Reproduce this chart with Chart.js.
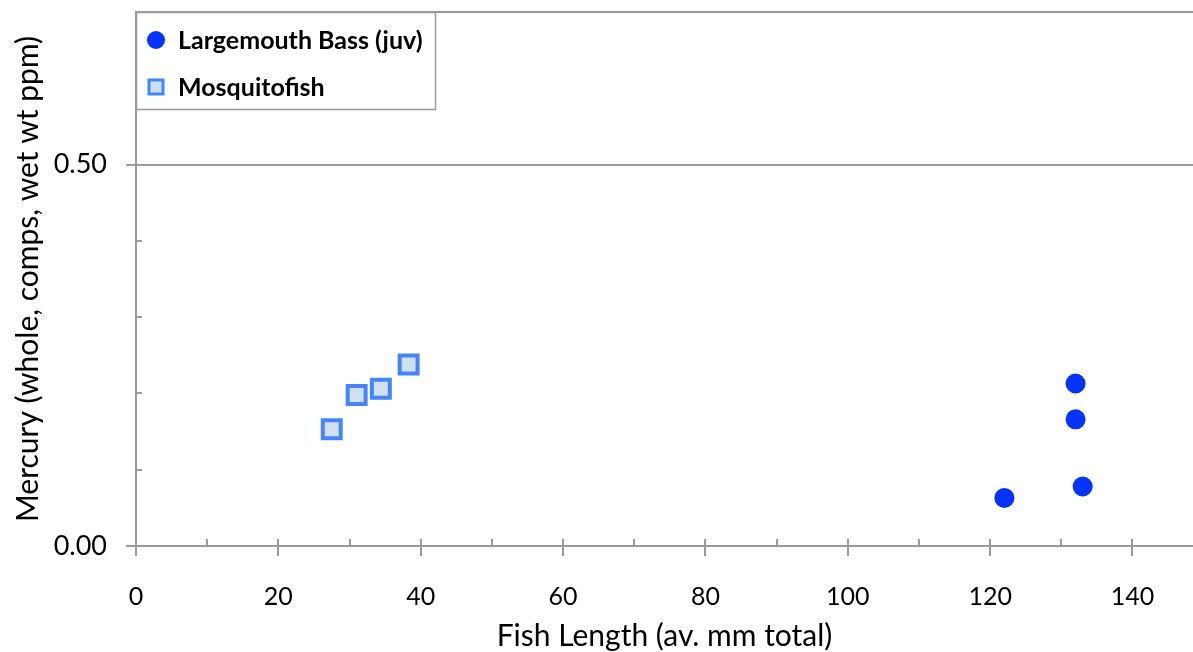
<!DOCTYPE html>
<html>
<head>
<meta charset="utf-8">
<script src="https://cdn.jsdelivr.net/npm/chart.js@4"></script>
<style>
  html, body { margin: 0; padding: 0; background: #fff; }
</style>
</head>
<body>
<canvas id="chart" width="1193" height="652"></canvas>
<script>
// data
const bassLength = [122, 132, 132, 133];
const bassMercury = [0.063, 0.166, 0.213, 0.078];
const mosqLength = [27.5, 31.0, 34.4, 38.3];
const mosqMercury = [0.153, 0.198, 0.206, 0.238];

const xTicks = [0, 10, 20, 30, 40, 50, 60, 70, 80, 90, 100, 110, 120, 130, 140];
const xLabels = [0, 20, 40, 60, 80, 100, 120, 140];
const yTicks = [0, 0.1, 0.2, 0.3, 0.4, 0.5, 0.6, 0.7];
const yLabels = [0, 0.5];

const gray = '#9a9a9a';
const fontFamily = 'Lato, "Open Sans", sans-serif';

function near(list, v) {
    return list.some(t => Math.abs(t - v) < 1e-6);
}

function noPadding(scale) {
    scale.paddingTop = 0;
    scale.paddingBottom = 0;
    scale.paddingLeft = 0;
    scale.paddingRight = 0;
}

// Excel style tick marks: major cross the axis, minor sit inside
const tickMarks = {
    id: 'tickMarks',
    afterDraw(chart) {
        const { ctx, chartArea: a, scales: { x, y } } = chart;
        ctx.save();
        ctx.strokeStyle = gray;
        ctx.lineWidth = 2;
        ctx.beginPath();
        xTicks.forEach(v => {
            const px = Math.round(x.getPixelForValue(v));
            ctx.moveTo(px, a.bottom - 7);
            ctx.lineTo(px, near(xLabels, v) ? a.bottom + 10 : a.bottom);
        });
        yTicks.forEach(v => {
            const py = Math.round(y.getPixelForValue(v));
            ctx.moveTo(a.left + 6, py);
            ctx.lineTo(near(yLabels, v) ? a.left - 10 : a.left, py);
        });
        ctx.stroke();
        ctx.restore();
    }
};

// legend box in the top left corner of the plot
const boxLegend = {
    id: 'boxLegend',
    afterDraw(chart) {
        const { ctx, chartArea: a } = chart;
        const left = a.left, top = a.top;
        ctx.save();
        ctx.fillStyle = '#fff';
        ctx.fillRect(left, top, 299, 97);
        ctx.strokeStyle = gray;
        ctx.lineWidth = 1.5;
        ctx.strokeRect(left + 0.5, top + 0.5, 299, 97);

        chart.data.datasets.forEach((ds, i) => {
            const cy = top + 28 + i * 47;
            const cx = left + 20;
            ctx.fillStyle = ds.backgroundColor;
            ctx.strokeStyle = ds.borderColor;
            if (ds.pointStyle === 'circle') {
                ctx.beginPath();
                ctx.arc(cx, cy, 9, 0, Math.PI * 2);
                ctx.fill();
            } else {
                ctx.lineWidth = 3;
                ctx.fillRect(cx - 7, cy - 7, 14, 14);
                ctx.strokeRect(cx - 7, cy - 7, 14, 14);
            }
            ctx.fillStyle = '#000';
            ctx.font = 'bold 25px ' + fontFamily;
            ctx.textBaseline = 'middle';
            ctx.fillText(ds.label, left + 42, cy + 1);
        });
        ctx.restore();
    }
};

const ctx = document.getElementById('chart').getContext('2d');
const chart = new Chart(ctx, {
    type: 'scatter',
    data: {
        datasets: [
            {
                label: 'Largemouth Bass (juv)',
                data: bassLength.map((v, i) => ({ x: v, y: bassMercury[i] })),
                pointStyle: 'circle',
                pointRadius: 10,
                pointHoverRadius: 10,
                backgroundColor: '#0433ff',
                borderColor: '#0433ff',
                borderWidth: 0
            },
            {
                label: 'Mosquitofish',
                data: mosqLength.map((v, i) => ({ x: v, y: mosqMercury[i] })),
                pointStyle: 'rect',
                pointRadius: 12.7,
                pointHoverRadius: 12.7,
                backgroundColor: '#d0e0f3',
                borderColor: '#4584fa',
                borderWidth: 4
            }
        ]
    },
    options: {
        responsive: false,
        animation: false,
        layout: { autoPadding: false, padding: { top: 12, right: 0, left: 0, bottom: 0 } },
        plugins: {
            legend: { display: false },
            tooltip: { enabled: false }
        },
        scales: {
            x: {
                type: 'linear',
                min: 0,
                max: 148.5,
                afterBuildTicks: scale => { scale.ticks = xTicks.map(v => ({ value: v })); },
                afterFit: scale => { scale.height = 106; noPadding(scale); },
                grid: { display: false, drawTicks: false },
                border: { display: true, color: gray, width: 2 },
                ticks: {
                    autoSkip: false,
                    maxRotation: 0,
                    padding: 36,
                    color: '#000',
                    font: { family: fontFamily, size: 25 },
                    callback: v => near(xLabels, v) ? String(v) : ''
                },
                title: {
                    display: true,
                    text: 'Fish Length (av. mm total)',
                    color: '#000',
                    font: { family: fontFamily, size: 30 },
                    padding: { top: 0, bottom: -2 }
                }
            },
            y: {
                type: 'linear',
                min: 0,
                max: 0.7,
                afterBuildTicks: scale => { scale.ticks = yTicks.map(v => ({ value: v })); },
                afterFit: scale => { scale.width = 136; noPadding(scale); },
                grid: {
                    drawTicks: false,
                    lineWidth: 2,
                    color: c => (c.tick && (near([0.5, 0.7], c.tick.value))) ? gray : 'rgba(0,0,0,0)'
                },
                border: { display: true, color: gray, width: 2 },
                ticks: {
                    autoSkip: false,
                    padding: 29,
                    color: '#000',
                    font: { family: fontFamily, size: 27 },
                    callback: v => near(yLabels, v) ? v.toFixed(2) : ''
                },
                title: {
                    display: true,
                    text: 'Mercury (whole, comps, wet wt ppm)',
                    color: '#000',
                    font: { family: fontFamily, size: 30 },
                    padding: { top: 10, bottom: 0 }
                }
            }
        }
    },
    plugins: [tickMarks, boxLegend]
});
</script>
</body>
</html>
